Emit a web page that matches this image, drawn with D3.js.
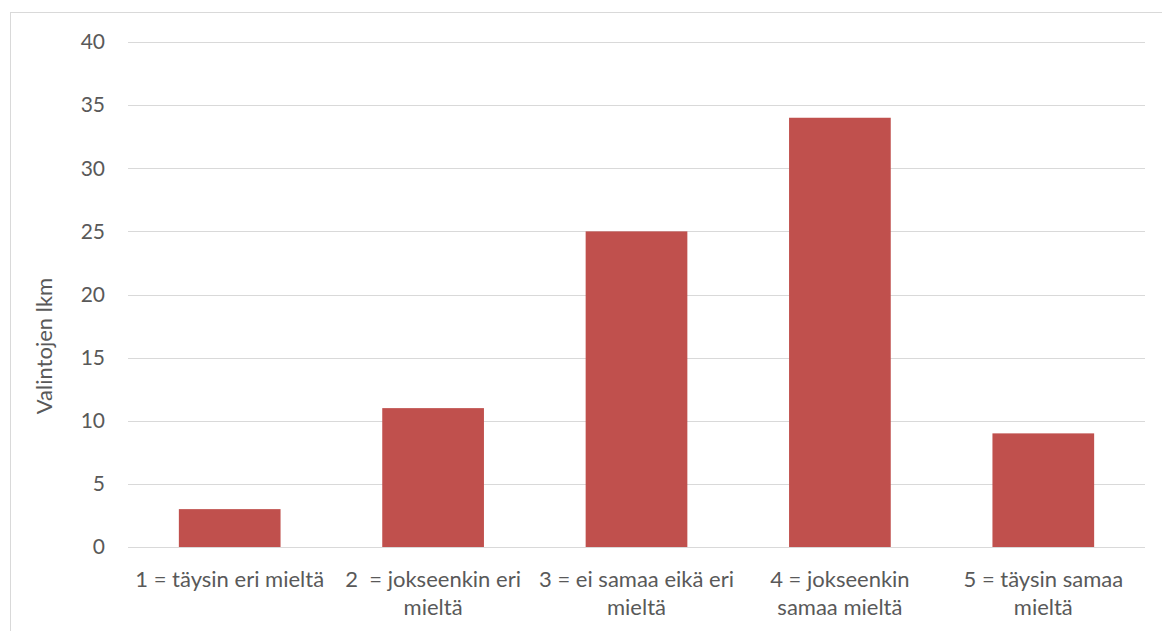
<!DOCTYPE html>
<html><head><meta charset="utf-8">
<script src="https://cdn.jsdelivr.net/npm/d3@7"></script>
<style>body{margin:0;background:#fff;overflow:hidden;} text{font-family:Lato,"Open Sans",sans-serif;fill:#595959;}</style>
</head><body>
<svg id="c" width="1162" height="631"></svg>
<script>
const categories = [["1 = täysin eri mieltä"], ["2  = jokseenkin eri", "mieltä"], ["3 = ei samaa eikä eri", "mieltä"], ["4 = jokseenkin", "samaa mieltä"], ["5 = täysin samaa", "mieltä"]];
const values = [3, 11, 25, 34, 9];
const yTicks = [0, 5, 10, 15, 20, 25, 30, 35, 40];
const yTitle = "Valintojen lkm";

(function () {
const svg = d3.select("#c");
svg.append("rect").attr("x", 10.5).attr("y", 12.5).attr("width", 1200).attr("height", 700)
  .attr("fill", "none").attr("stroke", "#d9d9d9").attr("stroke-width", 1);

const pLeft = 128, pRight = 1145, pTop = 42, pBottom = 547;
const x = d3.scaleBand().domain(d3.range(values.length)).range([pLeft, pRight]).paddingInner(0.5).paddingOuter(0.25);
const y = d3.scaleLinear().domain([0, 40]).range([pBottom, pTop]);

svg.append("g").selectAll("line").data(yTicks).join("line")
  .attr("x1", pLeft).attr("x2", pRight).attr("y1", d => Math.round(y(d)) + 0.5).attr("y2", d => Math.round(y(d)) + 0.5)
  .attr("stroke", "#d9d9d9").attr("stroke-width", 1);

svg.append("g").selectAll("text").data(yTicks).join("text")
  .attr("x", 105).attr("y", d => y(d)).attr("dy", "0.35em").attr("text-anchor", "end")
  .attr("font-size", 21).text(d => d);

svg.append("g").selectAll("rect").data(values).join("rect")
  .attr("x", (d, i) => x(i)).attr("width", x.bandwidth())
  .attr("y", d => y(d)).attr("height", d => y(0) - y(d)).attr("fill", "#C0504D");

const lab = svg.append("g").selectAll("text").data(categories).join("text")
  .attr("text-anchor", "middle").attr("font-size", 22)
  .attr("transform", (d, i) => `translate(${x(i) + x.bandwidth() / 2},0)`);
lab.selectAll("tspan").data(d => d).join("tspan")
  .attr("x", 0).attr("y", (d, j) => 587 + j * 28).attr("xml:space", "preserve").text(d => d);

svg.append("text").attr("transform", "translate(52,346) rotate(-90)").attr("text-anchor", "middle")
  .attr("font-size", 22).text(yTitle);
})();
</script>
</body></html>
